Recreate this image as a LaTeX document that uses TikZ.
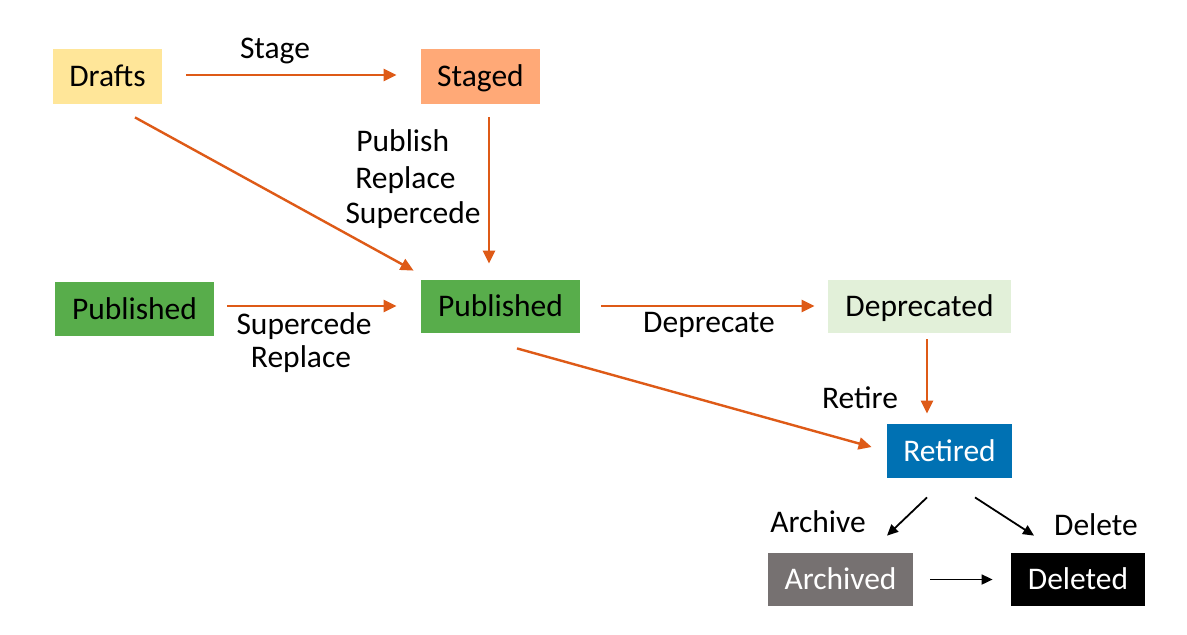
\documentclass[tikz,border=0pt]{standalone}
\usepackage{fontspec}
\setmainfont{Carlito}
\usetikzlibrary{arrows.meta,calc}
\definecolor{draftc}{HTML}{FFE699}
\definecolor{stagedc}{HTML}{FFA977}
\definecolor{pubc}{HTML}{58AD4B}
\definecolor{deprc}{HTML}{E2F0D9}
\definecolor{retc}{HTML}{0071B3}
\definecolor{archc}{HTML}{767171}
\definecolor{arrc}{HTML}{DE5A17}
\tikzset{
  state/.style={rectangle, inner sep=0pt, text height=10pt, text depth=0pt, font=\fontsize{15.75}{18}\selectfont},
  lbl/.style={inner sep=0pt, font=\fontsize{15.75}{18}\selectfont},
  oarrow/.style={draw=arrc, line width=1.2pt, -{Triangle[length=6.5pt,width=6pt]}, fill=none},
  karrow/.style={draw=black, line width=0.9pt, -{Triangle[length=5.5pt,width=5pt]}},
}
\begin{document}
\begin{tikzpicture}[x=0.5pt,y=-0.5pt]
\useasboundingbox[fill=white] (0,0) rectangle (1187,634);
% states
\node[state, fill=draftc, minimum width=54.5pt, minimum height=27.5pt] (Drafts) at (107.5,76.5) {Drafts};
\node[state, fill=stagedc, minimum width=59.5pt, minimum height=27.5pt] (Staged) at (480.5,76.5) {Staged};
\node[state, fill=pubc, minimum width=79.5pt, minimum height=27pt] (PubL) at (134.5,309) {Published};
\node[state, fill=pubc, minimum width=79.5pt, minimum height=26.5pt] (PubC) at (500.5,306.5) {Published};
\node[state, fill=deprc, minimum width=91.5pt, minimum height=26.5pt] (Depr) at (919.5,306.5) {Deprecated};
\node[state, fill=retc, text=white, minimum width=62.5pt, minimum height=27pt] (Ret) at (949.5,451) {Retired};
\node[state, fill=archc, text=white, minimum width=72.5pt, minimum height=26.5pt] (Arch) at (840.5,579.5) {Archived};
\node[state, fill=black, text=white, minimum width=67pt, minimum height=26.5pt] (Del) at (1078,579.5) {Deleted};
% labels
\node[lbl] (lStage) at (275,51) {Stage};
\node[lbl, anchor=west] (lPublish) at (356,141) {Publish};
\node[lbl, anchor=west] (lReplace1) at (355,180) {Replace};
\node[lbl] (lSuper1) at (413,215) {Supercede};
\node[lbl] (lSuper2) at (304,326) {Supercede};
\node[lbl] (lReplace2) at (301,359) {Replace};
\node[lbl] (lDepr) at (709,325) {Deprecate};
\node[lbl] (lRetire) at (860,398) {Retire};
\node[lbl] (lArchive) at (818,522) {Archive};
\node[lbl] (lDelete) at (1096,525) {Delete};
% connectors
\draw[oarrow] ($(Drafts.east)+(24,-1.5)$) -- ($(Staged.west)+(-24,-1.5)$);
\draw[oarrow] ($(Drafts.south)+(27.5,13)$) -- ($(PubC.north west)+(-7,-9)$);
\draw[oarrow] ($(Staged.south)+(8.5,13)$) -- ($(PubC.north)+(-11.5,-16)$);
\draw[oarrow] ($(PubL.east)+(13,-3)$) -- ($(PubC.west)+(-24,-0.5)$);
\draw[oarrow] ($(PubC.east)+(21,-0.5)$) -- ($(Depr.west)+(-13,-0.5)$);
\draw[oarrow] ($(Depr.south)+(7.5,6)$) -- ($(Ret.north)+(-22.5,-10)$);
\draw[oarrow] ($(PubC.south)+(16.5,15)$) -- ($(Ret.west)+(-15,-4)$);
\draw[karrow] ($(Ret.south)+(-22.5,19)$) -- ($(Arch.north)+(46.5,-17)$);
\draw[karrow] ($(Ret.south)+(25.5,19)$) -- ($(Del.north)+(-44,-17)$);
\draw[karrow] ($(Arch.east)+(17,0)$) -- ($(Del.west)+(-18,0)$);
\end{tikzpicture}
\end{document}
